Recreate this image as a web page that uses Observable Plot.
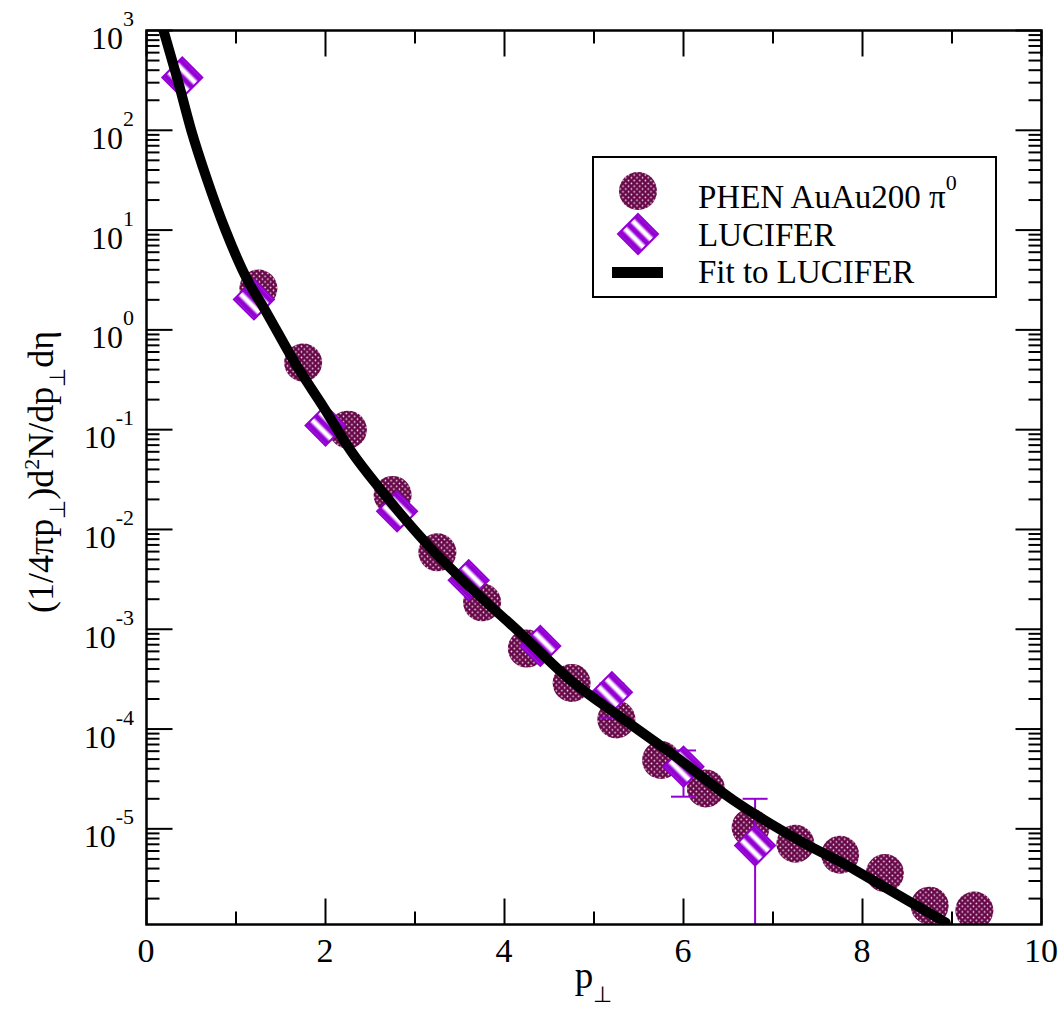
<!DOCTYPE html>
<html><head><meta charset="utf-8">
<script src="https://cdn.jsdelivr.net/npm/d3@7"></script>
<script src="https://cdn.jsdelivr.net/npm/@observablehq/plot@0.6"></script>
<style>
body{margin:0;background:#fff;}
#chart{width:1064px;height:1010px;}
svg{font-family:"Liberation Serif","Times New Roman",serif;}
</style></head><body><div id="chart"></div>
<script>
// ---- data ----
const phenPt  = [1.25, 1.75, 2.25, 2.75, 3.25, 3.75, 4.25, 4.75, 5.25, 5.75, 6.25, 6.75, 7.25, 7.75, 8.25, 8.75, 9.25];
const phenVal = [2.6, 0.47, 0.1, 0.0222, 0.0059, 0.00186, 6.4e-4, 2.9e-4, 1.25e-4, 4.9e-5, 2.54e-5, 1.03e-5, 7.1e-6, 5.5e-6, 3.6e-6, 1.7e-6, 1.52e-6];
const lucPt   = [0.4, 1.2, 2.0, 2.8, 3.6, 4.4, 5.2, 6.0, 6.8];
const lucVal  = [338, 2.02, 0.11, 0.0152, 0.0031, 6.8e-4, 2.34e-4, 4.2e-5, 6.8e-6];
const errPt   = [5.2, 6.0, 6.8];
const errLo   = [1.3e-4, 2.1e-5, 5e-7];
const errHi   = [2.86e-4, 6.1e-5, 2.0e-5];
const fitPt   = [0.19, 0.35, 0.5, 0.68, 0.88, 1.13, 1.31, 1.69, 1.98, 2.28, 2.65, 3.15, 3.62, 4.18, 4.74, 5.30, 5.66, 5.82, 6.56, 7.31, 7.87, 8.06, 8.93];
const fitVal  = [1000, 316, 100, 31.4, 10.1, 3.13, 1.67, 0.42, 0.167, 0.062, 0.023, 0.0069, 0.00262, 9.1e-4, 3.07e-4, 1.31e-4, 7.7e-5, 6.1e-5, 1.93e-5, 7.5e-6, 4.1e-6, 3.26e-6, 1.15e-6];
const xMajor  = [0, 2, 4, 6, 8, 10];
const xMinor  = [1, 3, 5, 7, 9];
const yDecades = [-5, -4, -3, -2, -1, 0, 1, 2, 3];
const xDomain = [0, 10];
const yDomain = [1.1e-6, 1000];
const legendLabels = ["PHEN AuAu200 π", "LUCIFER", "Fit to LUCIFER"];

const violet = "#9400d3", maroon = "#670748";

const phen = phenPt.map((x, i) => ({x, y: phenVal[i]}));
const luc = lucPt.map((x, i) => ({x, y: lucVal[i]}));
const err = errPt.map((x, i) => ({x, lo: errLo[i], hi: errHi[i]}));
const caps = err.flatMap(d => [{x: d.x, y: d.lo}, {x: d.x, y: d.hi}]);
const fit = fitPt.map((x, i) => ({x, y: fitVal[i]}));
const yMinor = [];
for (let k = -6; k <= 2; k++) for (let m = 2; m <= 9; m++) {
  const v = m * 10 ** k;
  if (v > yDomain[0] && v < yDomain[1]) yMinor.push(v);
}
const yMajorV = yDecades.map(k => 10 ** k);

const seg = (dx, dy) => ({draw(ctx, size) { const l = Math.sqrt(size); ctx.moveTo(0, 0); ctx.lineTo(dx * l, dy * l); }});
const hbar = {draw(ctx, size) { const w = Math.sqrt(size); ctx.moveTo(-w, 0); ctx.lineTo(w, 0); }};
const rFor = L => L / Math.sqrt(Math.PI);
const tk = {fill: "none", stroke: "black", strokeWidth: 2};

const plot = Plot.plot({
  width: 1064, height: 1010,
  marginLeft: 146, marginRight: 23, marginTop: 30, marginBottom: 86,
  x: {domain: xDomain, axis: null},
  y: {type: "log", domain: yDomain, axis: null},
  style: {fontFamily: "'Liberation Serif', serif", background: "white", overflow: "visible"},
  marks: [
    Plot.dot(phen, {x: "x", y: "y", r: 19, fill: "url(#dots)", stroke: "none", clip: true}),
    Plot.ruleX(err, {x: "x", y1: "lo", y2: "hi", stroke: violet, strokeWidth: 2, clip: true}),
    Plot.dot(caps, {x: "x", y: "y", symbol: hbar, r: rFor(12.5), fill: "none", stroke: violet, strokeWidth: 2, clip: true}),
    Plot.dot(luc, {x: "x", y: "y", symbol: "diamond2", r: 18, fill: "url(#stripes)", stroke: violet, strokeWidth: 2, clip: true}),
    Plot.line(fit, {x: "x", y: "y", stroke: "black", strokeWidth: 10, curve: "monotone-x", clip: true}),
    // inward ticks on all four sides
    Plot.dot(xMajor, {x: d => d, y: () => yDomain[0], symbol: seg(0, -1), r: rFor(26), ...tk}),
    Plot.dot(xMinor, {x: d => d, y: () => yDomain[0], symbol: seg(0, -1), r: rFor(13), ...tk}),
    Plot.dot(xMajor, {x: d => d, y: () => yDomain[1], symbol: seg(0, 1), r: rFor(26), ...tk}),
    Plot.dot(xMinor, {x: d => d, y: () => yDomain[1], symbol: seg(0, 1), r: rFor(13), ...tk}),
    Plot.dot(yMajorV, {x: () => xDomain[0], y: d => d, symbol: seg(1, 0), r: rFor(26), ...tk}),
    Plot.dot(yMinor, {x: () => xDomain[0], y: d => d, symbol: seg(1, 0), r: rFor(13), ...tk}),
    Plot.dot(yMajorV, {x: () => xDomain[1], y: d => d, symbol: seg(-1, 0), r: rFor(26), ...tk}),
    Plot.dot(yMinor, {x: () => xDomain[1], y: d => d, symbol: seg(-1, 0), r: rFor(13), ...tk}),
    Plot.frame({stroke: "black", strokeWidth: 2.5})
  ]
});

const xs = plot.scale("x"), ys = plot.scale("y");
const svg = d3.select(plot);
const defs = svg.insert("defs", ":first-child");
const pd = defs.append("pattern").attr("id", "dots").attr("patternUnits", "userSpaceOnUse").attr("width", 5.6).attr("height", 5.6);
pd.append("rect").attr("width", 5.6).attr("height", 5.6).attr("fill", maroon);
pd.append("circle").attr("cx", 1.4).attr("cy", 1.4).attr("r", 0.85).attr("fill", "#f6e2f0");
pd.append("circle").attr("cx", 4.2).attr("cy", 4.2).attr("r", 0.85).attr("fill", "#f6e2f0");
const lg = defs.append("linearGradient").attr("id", "band").attr("x1", 0).attr("x2", 1).attr("y1", 0).attr("y2", 0);
[[0, violet], [0.15, violet], [0.38, "#ffffff"], [0.62, "#ffffff"], [0.85, violet], [1, violet]].forEach(([o, c]) => lg.append("stop").attr("offset", o).attr("stop-color", c));
const ps = defs.append("pattern").attr("id", "stripes").attr("patternUnits", "userSpaceOnUse").attr("width", 11).attr("height", 11).attr("patternTransform", "rotate(-45)");
ps.append("rect").attr("width", 11).attr("height", 11).attr("fill", "url(#band)");

const x0 = xs.range[0], x1 = xs.range[1];
const y0 = ys.range[0], y1 = ys.range[1];

// y tick labels 10^k
const gy = svg.append("g").attr("font-size", 32).attr("fill", "black");
yDecades.forEach(k => {
  const py = ys.apply(10 ** k);
  const t = gy.append("text").attr("x", x0 - 12).attr("y", py + 19).attr("text-anchor", "end");
  t.append("tspan").text("10");
  t.append("tspan").attr("font-size", 22).attr("dy", -23).text(String(k));
});
// x tick labels
const gx = svg.append("g").attr("font-size", 34).attr("fill", "black").attr("text-anchor", "middle");
xMajor.forEach(v => gx.append("text").attr("x", xs.apply(v)).attr("y", y0 + 38).text(String(v)));

// x title
const xt = svg.append("text").attr("x", (x0 + x1) / 2).attr("y", y0 + 64).attr("text-anchor", "middle").attr("font-size", 37);
xt.append("tspan").text("p");
xt.append("tspan").attr("font-size", 22).attr("dy", 14).text("⊥");

// y title
const yt = svg.append("text").attr("transform", `translate(53,${(y0 + y1) / 2 - 5}) rotate(-90)`).attr("text-anchor", "middle").attr("font-size", 36);
yt.append("tspan").text("(1/4πp");
yt.append("tspan").attr("font-size", 22).attr("dy", 12).text("⊥");
yt.append("tspan").attr("dy", -12).text(")d");
yt.append("tspan").attr("font-size", 22).attr("dy", -14).text("2");
yt.append("tspan").attr("dy", 14).text("N/dp");
yt.append("tspan").attr("font-size", 22).attr("dy", 12).text("⊥");
yt.append("tspan").attr("dy", -12).text("dη");

// legend
const L = svg.append("g");
L.append("rect").attr("x", 593).attr("y", 157).attr("width", 403).attr("height", 140).attr("fill", "white").attr("stroke", "black").attr("stroke-width", 2);
L.append("circle").attr("cx", 638).attr("cy", 191).attr("r", 19).attr("fill", "url(#dots)");
L.append("path").attr("transform", "translate(638,234)").attr("d", d3.symbol(d3.symbolDiamond2, Math.PI * 18 * 18)()).attr("fill", "url(#stripes)").attr("stroke", violet).attr("stroke-width", 2);
L.append("rect").attr("x", 612).attr("y", 267).attr("width", 51).attr("height", 11).attr("fill", "black");
const lt = L.append("g").attr("font-size", 33).attr("fill", "black").attr("text-anchor", "start");
const t0 = lt.append("text").attr("x", 698).attr("y", 208).attr("text-anchor", "start");
t0.append("tspan").text(legendLabels[0]);
t0.append("tspan").attr("font-size", 22).attr("dy", -18).text("0");
lt.append("text").attr("x", 698).attr("y", 246).attr("text-anchor", "start").text(legendLabels[1]);
lt.append("text").attr("x", 698).attr("y", 283).attr("text-anchor", "start").text(legendLabels[2]);

document.getElementById("chart").appendChild(plot);
</script>
</body></html>
